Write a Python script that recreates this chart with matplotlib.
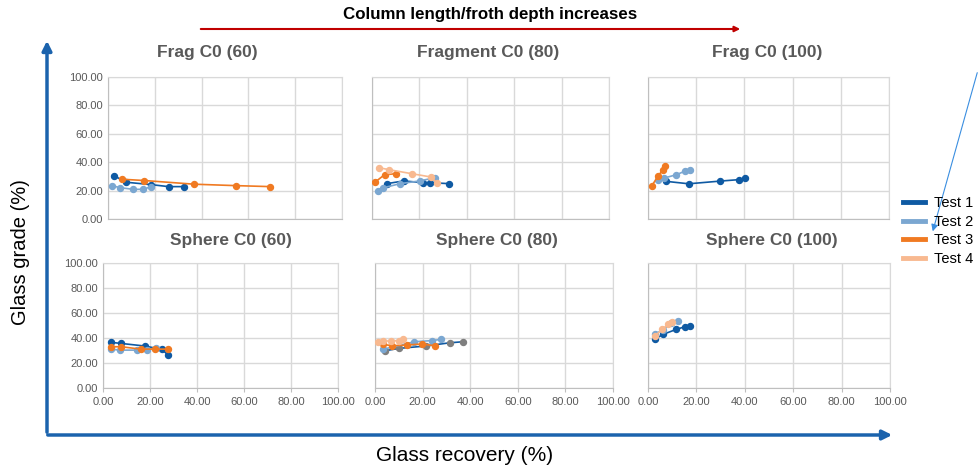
import matplotlib
matplotlib.use("Agg")
import matplotlib.pyplot as plt
from matplotlib.lines import Line2D
from matplotlib.patches import FancyArrowPatch

plt.rcParams["font.family"] = ["Liberation Sans", "DejaVu Sans"]

# recovery (x) / grade (y), one dict per panel
frag60 = {
    "Test 1": ([2.7, 7.7, 18.5, 25.9, 32.6], [30.4, 25.9, 24.2, 22.8, 22.8]),
    "Test 2": ([1.7, 5.0, 10.7, 15.0, 18.5], [23.5, 22.1, 20.9, 20.9, 22.8]),
    "Test 3": ([6.0, 15.5, 36.9, 54.7, 69.4], [28.0, 27.1, 24.5, 23.5, 22.8]),
}
frag80 = {
    "Test 1": ([6.3, 13.3, 21.7, 24.3, 32.5], [24.9, 26.8, 25.6, 25.6, 24.9]),
    "Test 2": ([2.4, 4.6, 11.9, 20.1, 26.6], [19.8, 21.9, 24.9, 26.8, 29.1]),
    "Test 3": ([1.4, 5.3, 10.1], [26.1, 31.2, 31.9]),
    "Test 4": ([3.1, 7.3, 16.8, 24.8, 27.3], [36.1, 34.7, 31.9, 29.6, 25.6]),
}
frag100 = {
    "Test 1": ([7.6, 16.9, 30.0, 37.6, 40.2], [26.5, 24.8, 26.7, 27.7, 28.6]),
    "Test 2": ([4.1, 6.6, 11.8, 15.2, 17.4], [27.7, 28.8, 31.2, 33.6, 34.8]),
    "Test 3": ([1.5, 4.1, 6.2, 7.2], [23.2, 30.0, 34.8, 37.1]),
}
sphere60 = {
    "Test 1": ([3.5, 7.5, 17.7, 25.1, 27.7], [36.5, 35.7, 33.6, 30.9, 26.3]),
    "Test 2": ([3.5, 7.1, 14.5, 18.7, 22.4], [31.1, 30.3, 30.3, 30.3, 32.2]),
    "Test 3": ([3.5, 7.8, 16.0, 22.0, 27.7], [33.0, 33.0, 31.1, 31.1, 31.1]),
}
sphere80 = {
    "Test 1": ([4.2, 10.1, 21.4, 31.5, 37.1], [29.8, 31.7, 33.6, 36.2, 37.0]),
    "Test 2": ([3.2, 16.5, 23.8, 27.7], [30.9, 37.0, 37.9, 38.9]),
    "Test 3": ([3.2, 7.3, 13.6, 19.6, 25.2], [34.9, 33.8, 34.4, 35.2, 33.8]),
    "Test 4": ([1.4, 3.2, 6.7, 10.1, 11.9], [36.5, 37.6, 37.6, 37.9, 38.9]),
}
sphere100 = {
    "Test 1": ([3.0, 6.2, 11.7, 15.2, 17.2], [39.2, 42.9, 46.9, 49.0, 49.8]),
    "Test 2": ([2.8, 6.2, 9.7, 12.4], [43.2, 46.4, 51.7, 53.8]),
    "Test 4": ([2.8, 5.9, 8.3, 9.9], [41.6, 46.9, 50.9, 52.5]),
}

titles = ["Frag C0 (60)", "Fragment C0 (80)", "Frag C0 (100)",
          "Sphere C0 (60)", "Sphere C0 (80)", "Sphere C0 (100)"]
tests = ["Test 1", "Test 2", "Test 3", "Test 4"]
ticks = [0, 20, 40, 60, 80, 100]

colors = {"Test 1": "#0f5aa3", "Test 2": "#7ba7d1",
          "Test 3": "#f07a22", "Test 4": "#f8b990"}

W, H = 979, 469


def fx(x):
    return x / W


def fy(y):
    return 1 - y / H


fig = plt.figure(figsize=(W / 100, H / 100), dpi=100)
fig.patch.set_facecolor("white")

# axes boxes in pixels: left, top, right, bottom; title centre in pixels
boxes = [(108, 77, 342, 219), (372, 77, 609, 219), (648, 77, 889, 219),
         (103, 263, 338, 388), (375, 263, 613, 388), (648, 263, 890, 388)]
title_pos = [(207, 53), (488, 53), (767, 53), (231, 240), (497, 241), (772, 240)]
panels = [frag60, frag80, frag100, sphere60, sphere80, sphere100]

for i, (box, data, title) in enumerate(zip(boxes, panels, titles)):
    l, t, r, b = box
    ax = fig.add_axes([fx(l), fy(b), fx(r - l), (b - t) / H])
    for name in tests:
        if name not in data:
            continue
        xs, ys = data[name]
        mc = colors[name]
        if i == 4 and name == "Test 1":
            mc = "#7f7f7f"
        ax.plot(xs, ys, color=colors[name], lw=1.2, marker="o", ms=4.3,
                mfc=mc, mec=mc, zorder=3)
    ax.set_xlim(0, 100)
    ax.set_ylim(0, 100)
    ax.set_xticks(ticks)
    ax.set_yticks(ticks)
    ax.grid(True, color="#d9d9d9", lw=1)
    ax.set_axisbelow(True)
    for s in ["top", "right"]:
        ax.spines[s].set_color("#d9d9d9")
    for s in ["left", "bottom"]:
        ax.spines[s].set_color("#bfbfbf")
    ax.tick_params(colors="#595959", labelsize=8, length=0)
    ax.tick_params(axis="x", length=3, color="#bfbfbf")
    ax.xaxis.set_major_formatter(lambda v, p: f"{v:.2f}")
    ax.yaxis.set_major_formatter(lambda v, p: f"{v:.2f}")
    if i not in (0, 3):
        ax.tick_params(axis="y", labelleft=False)
    if i < 3:
        ax.tick_params(axis="x", labelbottom=False, length=0)
    tx, ty = title_pos[i]
    fig.text(fx(tx), fy(ty), title, fontsize=12.5, fontweight="bold",
             color="#595959", ha="center", va="center")

# big axes arrows
arrow_kw = dict(transform=fig.transFigure, color="#1b63ad", lw=2.5,
                arrowstyle="-|>", mutation_scale=14)
fig.add_artist(FancyArrowPatch((fx(47), fy(435)), (fx(47), fy(38)), **arrow_kw))
fig.add_artist(FancyArrowPatch((fx(45), fy(435)), (fx(895), fy(435)), **arrow_kw))
fig.text(fx(21), fy(252), "Glass grade (%)", rotation=90, fontsize=14.5,
         ha="center", va="center")
fig.text(fx(465), fy(455), "Glass recovery (%)", fontsize=15,
         ha="center", va="center")

# red trend arrow
fig.add_artist(FancyArrowPatch((fx(198), fy(29)), (fx(743), fy(29)),
                               transform=fig.transFigure, color="#c00000",
                               lw=1.5, arrowstyle="-|>", mutation_scale=8))
fig.text(fx(490), fy(15), "Column length/froth depth increases",
         fontsize=12.2, fontweight="bold", ha="center", va="center")

# legend
handles = [Line2D([], [], color=colors[n], lw=3.5) for n in tests]
fig.legend(handles, tests, loc="center left",
           bbox_to_anchor=(fx(903), fy(231)), frameon=False, fontsize=10.5,
           handlelength=1.5, handletextpad=0.6, labelspacing=0.32,
           borderpad=0, borderaxespad=0)

# thin pointer arrow
fig.add_artist(FancyArrowPatch((fx(978), fy(70)), (fx(932), fy(234)),
                               transform=fig.transFigure, color="#3a8ee0",
                               lw=0.8, arrowstyle="-|>", mutation_scale=10))

fig.savefig("out.png", dpi=100)
